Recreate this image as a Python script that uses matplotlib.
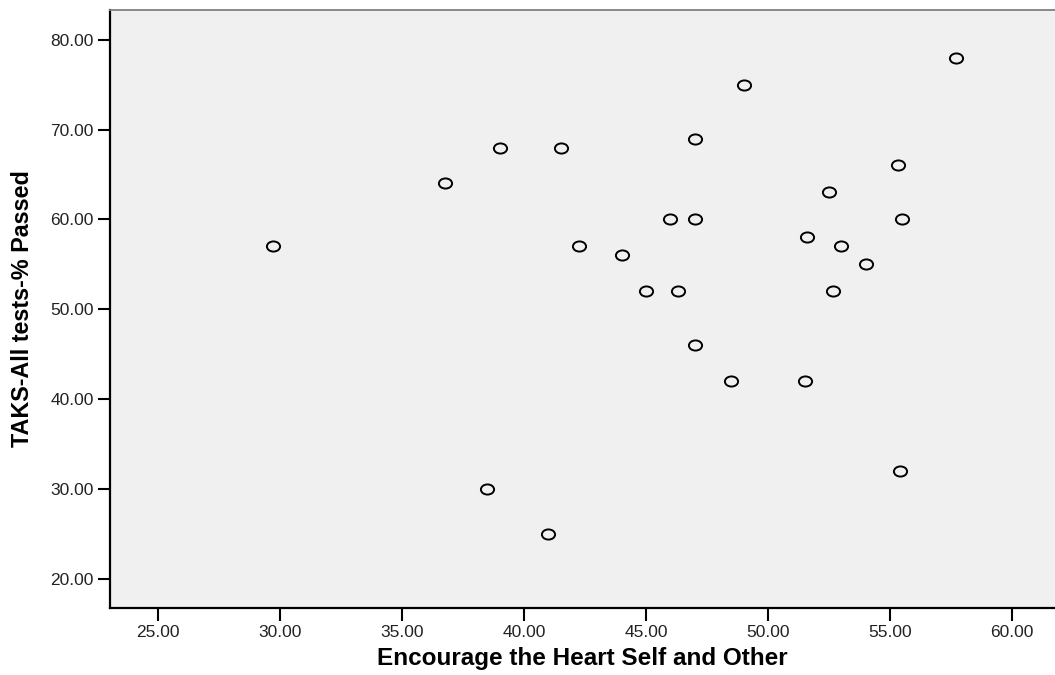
import matplotlib
matplotlib.use("Agg")
import matplotlib.pyplot as plt
from matplotlib.markers import MarkerStyle
from matplotlib.transforms import Affine2D

plt.rcParams['font.family'] = ['Liberation Sans', 'DejaVu Sans']

# Encourage the Heart (self and other) vs. TAKS all tests % passed
heart = [29.73, 36.75, 39.0, 41.5, 47.0, 46.0, 47.0, 42.25, 44.0, 45.0,
         46.3, 47.0, 38.5, 41.0, 57.7, 49.0, 55.33, 52.5, 55.5, 51.6,
         53.0, 54.0, 52.67, 48.5, 51.5, 55.4]
taks = [57, 64, 68, 68, 69, 60, 60, 57, 56, 52,
        52, 46, 30, 25, 78, 75, 66, 63, 60, 58,
        57, 55, 52, 42, 42, 32]
x_ticks = [25, 30, 35, 40, 45, 50, 55, 60]
y_ticks = [20, 30, 40, 50, 60, 70, 80]

fig = plt.figure(figsize=(10.55, 6.75), dpi=100)
ax = fig.add_axes([0.1046, 0.0988, 0.8954, 0.8868])
ax.set_facecolor('#f0f0f0')

# slightly wide open circles
circ = MarkerStyle('o', transform=Affine2D().scale(1.3, 1.0))
ax.plot(heart, taks, linestyle='none', marker=circ, markersize=7.3,
        markerfacecolor='none', markeredgecolor='black',
        markeredgewidth=1.4, zorder=3)

ax.set_xlim(23.06, 61.75)
ax.set_ylim(16.7, 83.34)
ax.set_xticks(x_ticks)
ax.set_yticks(y_ticks)
ax.set_xticklabels([f"{v:.2f}" for v in x_ticks])
ax.set_yticklabels([f"{v:.2f}" for v in y_ticks])
ax.tick_params(direction='out', length=9, width=1.5, labelsize=12.5,
               colors='black', labelcolor='#222222', pad=3)

for s in ['left', 'bottom']:
    ax.spines[s].set_linewidth(1.6)
    ax.spines[s].set_color('black')
ax.spines['top'].set_color('#808080')
ax.spines['top'].set_linewidth(1.3)
ax.spines['right'].set_visible(False)

ax.set_xlabel("Encourage the Heart Self and Other", fontsize=17.5,
              fontweight='bold', labelpad=5)
ax.set_ylabel("TAKS-All tests-% Passed", fontsize=16.8,
              fontweight='bold', labelpad=12)

fig.savefig("out.png", dpi=100)
